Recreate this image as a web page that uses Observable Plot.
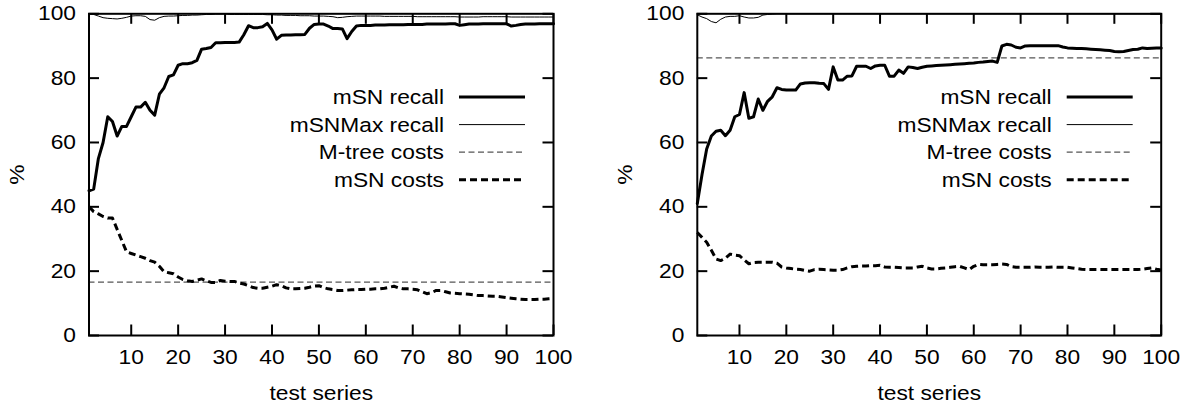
<!DOCTYPE html>
<html><head><meta charset="utf-8">
<script src="https://cdn.jsdelivr.net/npm/d3@7"></script>
<script src="https://cdn.jsdelivr.net/npm/@observablehq/plot@0.6"></script>
<style>
html,body{margin:0;padding:0;background:#fff;}
#wrap{display:flex;width:1200px;height:410px;overflow:hidden;}
</style></head><body><div id="wrap"></div>
<script>
const testSeries = Array.from({length: 100}, (_, i) => i + 1);
const xTicks = [10, 20, 30, 40, 50, 60, 70, 80, 90, 100];
const yTicks = [0, 20, 40, 60, 80, 100];
const legendLabels = ["mSN recall", "mSNMax recall", "M-tree costs", "mSN costs"];

const leftMsnRecall = [45,45.5,55,60,68,66.5,62,65,65,68, 71,71,72.5,70,68.5,75,77,80.5,81,84, 84.5,84.5,84.8,85.5,89,89.2,89.5,91,91,91.1, 91.1,91.1,91.2,93.5,96.3,95.7,95.7,96,97,95, 92.1,93.3,93.4,93.4,93.5,93.5,93.6,95.5,96.7,96.8, 96.8,96.2,95.4,95.4,95.3,92.3,94.5,96.2,96.4,96.4, 96.4,96.5,96.5,96.5,96.6,96.6,96.6,96.6,96.7,96.7, 96.7,96.7,96.8,96.8,96.8,96.8,96.8,96.9,96.9,96.4, 96.6,96.8,96.8,96.8,96.9,96.9,96.9,96.9,96.9,96.9, 96.2,96.4,96.7,96.8,96.8,96.8,96.9,96.9,96.9,96.9];
const leftMaxRecall = [100,99.8,99.3,98.8,98.6,98.5,98.4,98.6,98.9,99.3, 99.4,99.4,99.2,98.2,98,98.8,99.2,99.3,99.3,99.4, 99.5,99.5,99.6,99.6,99.7,99.8,99.8,99.9,99.9,100, 99.8,99.8,99.8,99.8,99.8,99.8,99.8,99.8,99.7,99.7, 99.6,99.6,99.5,99.5,99.5,99.4,99.4,99.4,99.3,99.3, 99.3,99.2,99.1,98.8,98.9,99.1,99.2,99.3,99.3,99.3, 99.3,99.3,99.3,99.2,99.2,99.2,99.2,99.2,99.2,99.2, 99.1,99.1,99.1,99.1,99.1,99.1,99.1,99.1,99.1,99, 99,99,99,99,99.1,99.1,99.1,99.1,99.1,99.1, 99,99,99,99,99,99,99,99,99,99];
const leftMsnCosts = [40,38.5,37.8,37,36.5,36.5,33,29.5,26,25.5, 25,24.5,24,23.3,22.8,21.5,19.8,19.5,19.2,18.2, 17.4,17,16.8,17.2,17.6,17,16.5,16.5,17.1,16.9, 16.8,16.8,16.3,16,15.5,14.9,14.7,14.7,15,15.3, 15.8,15.5,14.8,14.5,14.5,14.6,14.7,15,15.4,15.5, 14.9,14.5,14.3,14,14,14.1,14.2,14.3,14.3,14.4, 14.4,14.5,14.5,14.7,15,15.3,14.8,14.5,14.5,14.4, 14.2,13.6,13,13.3,14,14,13.6,13.2,13.1,13, 12.9,12.8,12.6,12.4,12.4,12.3,12.2,12.2,12,11.8, 11.6,11.4,11.3,11.2,11.2,11.2,11.3,11.3,11.4,11.5];
const leftMtreeCosts = [16.6];

const rightMsnRecall = [41,50,58,62,63.5,63.8,62.1,63.8,68,68.7, 75.5,67.5,68,73.5,70,72.8,74.2,77,76.5,76.3, 76.3,76.3,78.2,78.5,78.6,78.6,78.4,78.3,76.5,83.5, 79.4,79.4,80.6,80.7,83.7,83.7,83.7,83,83.8,84, 84,80.6,80.6,82.5,81.5,83.5,83.3,83,83.4,83.7, 83.8,83.9,84,84.1,84.2,84.3,84.4,84.5,84.6,84.7, 84.9,85,85.2,85.3,84.9,90,90.5,90.3,89.6,89.4, 90,90.1,90.1,90.1,90.1,90.1,90.1,90.1,89.7,89.4, 89.3,89.2,89.2,89.1,89,88.9,88.8,88.7,88.6,88.3, 88.2,88.3,88.6,88.9,89,89.4,89.2,89.3,89.4,89.4];
const rightMaxRecall = [99.7,99,98.5,97.6,97.2,98.3,99,99.2,99.2,99.4, 99,98.7,98.7,98.9,99.6,99.8,99.9,100,100,100, 100,100,100,100,100,100,100,100,100,100, 100,100,100,100,100,100,100,100,100,100, 100,100,100,100,100,100,100,100,100,100, 100,100,100,100,100,100,100,100,100,100, 100,100,100,100,100,100,100,100,100,100, 100,100,100,100,100,100,100,100,100,100, 100,100,100,100,100,100,100,100,100,100, 100,100,100,100,100,100,100,100,100,100];
const rightMsnCosts = [32,30.5,29,26.5,23.8,23.3,24,25.3,25,24.8, 23.5,22.3,22.7,22.8,22.8,22.8,22.8,22.5,21.3,21, 20.8,20.6,20.5,20.2,20,20.5,20.6,20.5,20.4,20.3, 20.3,20.5,21,21.4,21.5,21.6,21.6,21.7,21.7,21.8, 21.3,21.2,21.2,21.1,21,21,21,21.3,21.5,21, 20.7,20.7,20.9,21,21.2,21.4,21.5,21,20.5,21.5, 22.1,22,22,22,22.1,22.2,22.1,21.4,21.2,21.2, 21.2,21.2,21.3,21.2,21.2,21.2,21.3,21.2,21.2,21.2, 21,20.8,20.6,20.5,20.5,20.5,20.5,20.5,20.5,20.5, 20.5,20.5,20.5,20.5,20.5,20.6,20.8,21,20.6,20.4];
const rightMtreeCosts = [86.3];

function panel(recall, maxRecall, costs, mtree, marginLeft, marginRight) {
  const W = 600, H = 410, mt = 13.3, mb = 75;
  const fh = H - mt - mb, fw = W - marginLeft - marginRight;
  const T = 10.5;
  const rows = testSeries.map((x, i) => ({x, recall: recall[i], max: maxRecall[i], cost: costs[i]}));
  const svg = Plot.plot({
    width: W, height: H, marginLeft, marginRight, marginTop: mt, marginBottom: mb,
    style: {fontFamily: "'Liberation Sans', Arial, sans-serif", fontSize: "20.5px", color: "#000", background: "#fff", overflow: "visible"},
    x: {domain: [1, 100], label: null},
    y: {domain: [0, 100], label: null},
    marks: [
      Plot.axisX(xTicks, {tickSize: 0, tickPadding: 14, label: null}),
      Plot.axisY(yTicks, {tickSize: 0, tickPadding: 13, label: null}),
      Plot.ruleY(mtree, {stroke: "#555", strokeWidth: 1.2, strokeDasharray: "6,3.5"}),
      Plot.lineY(rows, {x: "x", y: "max", stroke: "#000", strokeWidth: 1}),
      Plot.lineY(rows, {x: "x", y: "recall", stroke: "#000", strokeWidth: 3}),
      Plot.lineY(rows, {x: "x", y: "cost", stroke: "#000", strokeWidth: 3, strokeDasharray: "7,4", strokeLinecap: "butt"}),
      Plot.frame({stroke: "#000", strokeWidth: 2}),
      Plot.tickX(xTicks, {x: d => d, insetTop: fh - T, stroke: "#000", strokeWidth: 2}),
      Plot.tickX(xTicks, {x: d => d, insetBottom: fh - T, stroke: "#000", strokeWidth: 2}),
      Plot.tickY(yTicks, {y: d => d, insetRight: fw - T, stroke: "#000", strokeWidth: 2}),
      Plot.tickY(yTicks, {y: d => d, insetLeft: fw - T, stroke: "#000", strokeWidth: 2}),
      Plot.text(["test series"], {frameAnchor: "bottom", dy: 58, textAnchor: "middle", lineAnchor: "middle"}),
      Plot.text(["%"], {frameAnchor: "left", dx: -72, rotate: -90, textAnchor: "middle", lineAnchor: "middle"})
    ]
  });
  // legend inside the frame, top-right
  const right = W - marginRight;
  const g = d3.select(svg).append("g").attr("class", "legend");
  const styles = [
    {w: 3, dash: null, c: "#000"},
    {w: 1, dash: null, c: "#000"},
    {w: 1.2, dash: "6,3.5", c: "#555"},
    {w: 3, dash: "7,4", c: "#000"}
  ];
  legendLabels.forEach((lab, i) => {
    const y = 97 + i * 27.6;
    g.append("text").attr("x", right - 109).attr("y", y).attr("dy", "0.35em")
      .attr("text-anchor", "end").attr("fill", "#000").text(lab);
    g.append("line").attr("x1", right - 94).attr("x2", right - 28).attr("y1", y).attr("y2", y)
      .attr("stroke", styles[i].c).attr("stroke-width", styles[i].w)
      .attr("stroke-dasharray", styles[i].dash).attr("stroke-linecap", "butt");
  });
  return svg;
}

const wrap = document.getElementById("wrap");
wrap.appendChild(panel(leftMsnRecall, leftMaxRecall, leftMsnCosts, leftMtreeCosts, 88.5, 47));
wrap.appendChild(panel(rightMsnRecall, rightMaxRecall, rightMsnCosts, rightMtreeCosts, 96.8, 39.3));

// widen glyphs horizontally to match the reference's stretched lettering
wrap.querySelectorAll("text").forEach(t => {
  if (!t.textContent) return;
  const len = t.getComputedTextLength();
  if (len > 0) {
    t.setAttribute("textLength", (len * 1.11).toFixed(2));
    t.setAttribute("lengthAdjust", "spacingAndGlyphs");
  }
});
</script></body></html>
